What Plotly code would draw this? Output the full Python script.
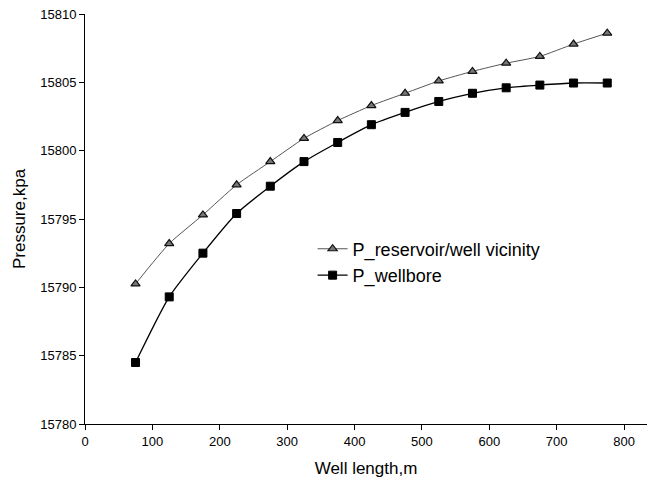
import plotly.graph_objects as go

well_length = [75, 125, 175, 225, 275, 325, 375, 425, 475, 525, 575, 625, 675, 725, 775]
p_reservoir = [15790.25, 15793.2, 15795.3, 15797.5, 15799.2, 15800.9, 15802.2, 15803.3,
               15804.2, 15805.1, 15805.8, 15806.4, 15806.9, 15807.8, 15808.6]
p_wellbore = [15784.5, 15789.3, 15792.5, 15795.4, 15797.4, 15799.2, 15800.6, 15801.9,
              15802.8, 15803.6, 15804.2, 15804.6, 15804.8, 15804.95, 15804.95]

x_ticks = [0, 100, 200, 300, 400, 500, 600, 700, 800]
y_ticks = [15780, 15785, 15790, 15795, 15800, 15805, 15810]

fig = go.Figure()
fig.add_trace(go.Scatter(
    x=well_length, y=p_reservoir, name="P_reservoir/well vicinity",
    mode="lines+markers",
    line=dict(color="#555555", width=1, shape="spline", smoothing=0.6),
    marker=dict(symbol="triangle-up", size=8, color="#777777",
                line=dict(color="#111111", width=1.2)),
))
fig.add_trace(go.Scatter(
    x=well_length, y=p_wellbore, name="P_wellbore",
    mode="lines+markers",
    line=dict(color="#000000", width=1.3, shape="spline", smoothing=0.6),
    marker=dict(symbol="square", size=8, color="#000000",
                line=dict(color="#000000", width=1)),
))

font_family = "Liberation Sans, Arial, sans-serif"
fig.update_layout(
    width=647, height=485,
    margin=dict(l=85, r=0, t=14, b=61),
    paper_bgcolor="white", plot_bgcolor="white",
    font=dict(family=font_family, color="#000000"),
    showlegend=True,
    legend=dict(x=0.405, y=0.395, xanchor="left", yanchor="middle",
                bgcolor="rgba(0,0,0,0)", font=dict(size=18, family=font_family),
                tracegroupgap=0, itemwidth=30),
    xaxis=dict(range=[0, 834], tickvals=x_ticks, ticktext=[str(v) for v in x_ticks],
               showgrid=False, zeroline=False, showline=True, linecolor="#000000",
               linewidth=1, ticks="outside", ticklen=5, tickcolor="#000000",
               tickfont=dict(size=13), title=dict(text="Well length,m", font=dict(size=17),
                                                  standoff=14)),
    yaxis=dict(range=[15780, 15810], tickvals=y_ticks, ticktext=[str(v) for v in y_ticks],
               showgrid=False, zeroline=False, showline=True, linecolor="#000000",
               linewidth=1, ticks="outside", ticklen=5, tickcolor="#000000",
               tickfont=dict(size=13), title=dict(text="Pressure,kpa", font=dict(size=17),
                                                  standoff=10)),
)

fig.write_html("out.html")
